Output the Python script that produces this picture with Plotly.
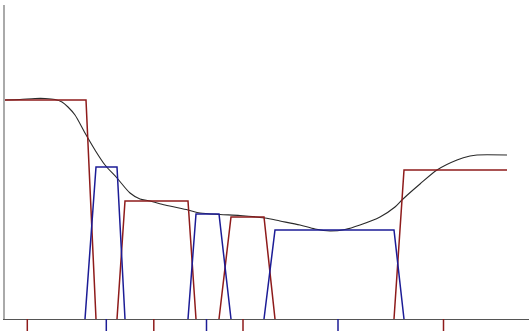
import plotly.graph_objects as go

# Data (x: horizontal units, y: vertical units)
curve_x = [0, 15, 30, 40, 50, 57, 63, 70, 80, 90, 100, 112, 125, 135, 145, 160, 183, 195, 215, 235, 260, 275, 295, 310, 325, 340, 355, 375, 390, 398, 415, 432, 452, 465, 472, 502]
curve_y = [219, 219.5, 220.5, 220.5, 219.5, 217, 212, 204, 186, 169, 154, 141, 126, 120, 118, 114, 109, 106, 104.5, 103.5, 101, 98, 94, 90, 88, 89.5, 94, 102, 112, 120, 135, 149, 159, 163, 164, 164]

red_x = [0, 81, 91, None, 112, 120, 183, 191, None, 214, 226, 259, 270, None, 389, 399, 502]
red_y = [219, 219, 0, None, 0, 118, 118, 0, None, 0, 102, 102, 0, None, 0, 149, 149]

blue_x = [80, 91, 112, 120, None, 183, 191, 214, 226, None, 259, 270, 389, 399]
blue_y = [0, 152, 152, 0, None, 0, 105, 105, 0, None, 0, 89, 89, 0]

red_ticks = [22.3, 148.8, 238, 438.5]
blue_ticks = [101.3, 201.5, 333]

RED = "#8e1b1b"
BLUE = "#1c1c96"

fig = go.Figure()
fig.add_trace(go.Scatter(x=curve_x, y=curve_y, mode="lines", line=dict(color="#2a2a2a", width=1.1, shape="spline", smoothing=0.8), hoverinfo="skip"))
fig.add_trace(go.Scatter(x=red_x, y=red_y, mode="lines", line=dict(color=RED, width=1.5), connectgaps=False, hoverinfo="skip"))
fig.add_trace(go.Scatter(x=blue_x, y=blue_y, mode="lines", line=dict(color=BLUE, width=1.5), connectgaps=False, hoverinfo="skip"))

shapes = []
for t in red_ticks:
    shapes.append(dict(type="line", xref="x", yref="paper", x0=t, x1=t, y0=0, y1=-0.045, line=dict(color=RED, width=1.5)))
for t in blue_ticks:
    shapes.append(dict(type="line", xref="x", yref="paper", x0=t, x1=t, y0=0, y1=-0.045, line=dict(color=BLUE, width=1.5)))

fig.update_layout(
    width=529, height=331,
    margin=dict(l=5, r=0, t=5, b=12),
    paper_bgcolor="white", plot_bgcolor="white",
    showlegend=False,
    hovermode=False,
    shapes=shapes,
    xaxis=dict(range=[0, 524], showgrid=False, zeroline=False, showticklabels=False, ticks="",
               showline=True, linecolor="#555555", linewidth=1, fixedrange=True),
    yaxis=dict(range=[0, 314], showgrid=False, zeroline=False, showticklabels=False, ticks="",
               showline=True, linecolor="#aaaaaa", linewidth=2, fixedrange=True),
)

fig.write_html("out.html", config={"displayModeBar": False, "staticPlot": True},
               post_script="document.body.style.margin='0';document.body.style.overflow='hidden';")
